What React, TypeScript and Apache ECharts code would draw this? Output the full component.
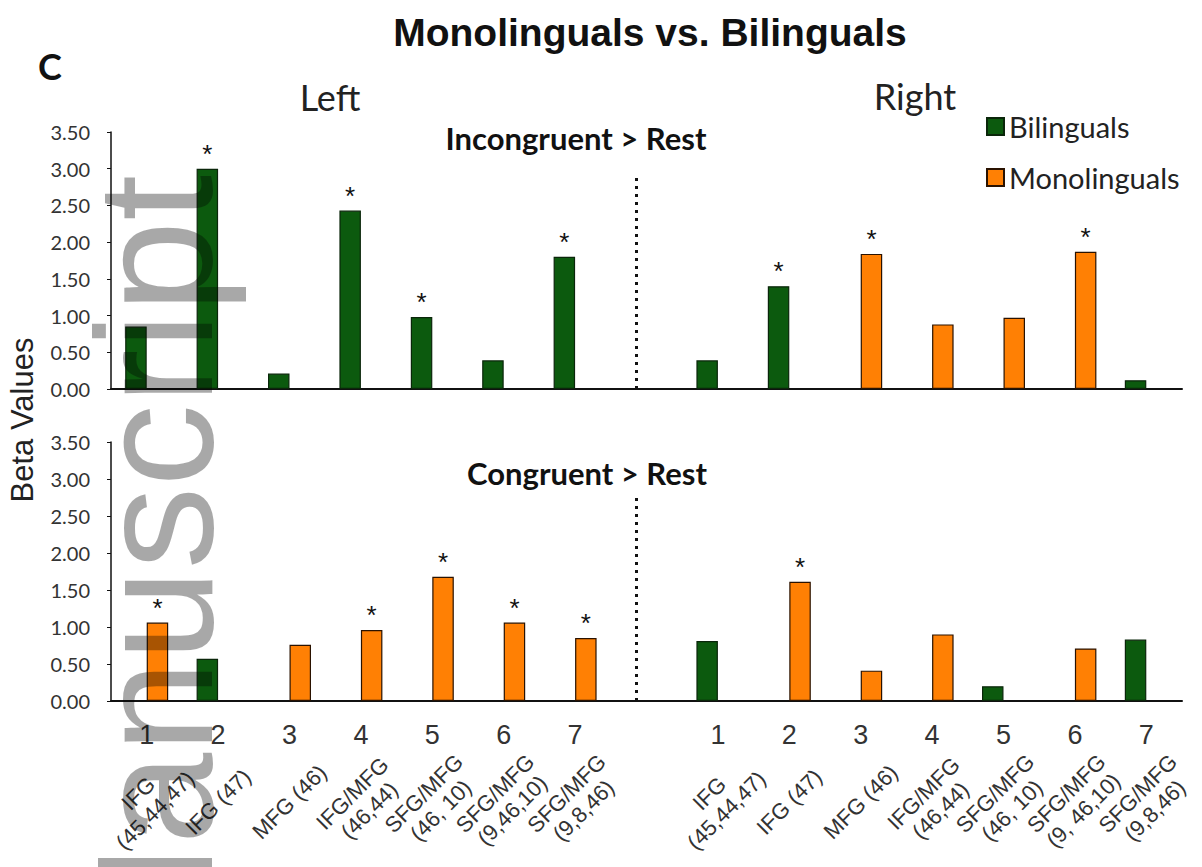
import React, { useEffect, useRef } from "react";
import * as echarts from "echarts";

// ---- data ----
const categories = ["L1", "L2", "L3", "L4", "L5", "L6", "L7", "gap", "R1", "R2", "R3", "R4", "R5", "R6", "R7"];
const tickNumbers = ["1", "2", "3", "4", "5", "6", "7", "", "1", "2", "3", "4", "5", "6", "7"];
const leftRegions = ["IFG\n(45,44,47)", "IFG (47)", "MFG (46)", "IFG/MFG\n(46,44)", "SFG/MFG\n(46, 10)", "SFG/MFG\n(9,46,10)", "SFG/MFG\n(9,8,46)"];
const rightRegions = ["IFG\n(45,44,47)", "IFG (47)", "MFG (46)", "IFG/MFG\n(46,44)", "SFG/MFG\n(46, 10)", "SFG/MFG\n(9, 46,10)", "SFG/MFG\n(9,8,46)"];

const incBilingualLeft = [0.85, 3.0, 0.21, 2.43, 0.98, 0.39, 1.8];
const incBilingualRight = [0.39, 1.4, null, null, null, null, 0.12];
const incMonolingualLeft = [null, null, null, null, null, null, null];
const incMonolingualRight = [null, null, 1.84, 0.88, 0.97, 1.87, null];
const incSignificantLeft = [0, 1, 0, 1, 1, 0, 1];
const incSignificantRight = [0, 1, 1, 0, 0, 1, 0];

const conBilingualLeft = [null, 0.57, null, null, null, null, null];
const conBilingualRight = [0.81, null, null, null, 0.2, null, 0.83];
const conMonolingualLeft = [1.06, null, 0.76, 0.96, 1.68, 1.06, 0.85];
const conMonolingualRight = [null, 1.61, 0.41, 0.9, null, 0.71, null];
const conSignificantLeft = [1, 0, 0, 1, 1, 1, 1];
const conSignificantRight = [0, 1, 0, 0, 0, 0, 0];

const dividerTopInc = 2.94;
const dividerTopCon = 2.76;

// ---- helpers ----
const join = (l: any[], r: any[]) => [...l, null, ...r];
const regionLabels = [...leftRegions, "", ...rightRegions];
const incSig = join(incSignificantLeft, incSignificantRight);
const conSig = join(conSignificantLeft, conSignificantRight);

const GREEN = "#0c5a0e";
const ORANGE = "#ff8004";
const calibriLike = "Lato, 'Open Sans', sans-serif";
const arialLike = "'Liberation Sans', Arial, sans-serif";

function yAxis(gridIndex: number) {
  return {
    type: "value",
    gridIndex,
    min: 0,
    max: 3.5,
    interval: 0.5,
    axisLine: { show: true, lineStyle: { color: "#111", width: 1.5 } },
    axisTick: { show: true, length: 4, lineStyle: { color: "#111" } },
    splitLine: { show: false },
    axisLabel: {
      formatter: (v: number) => v.toFixed(2),
      margin: 21,
      fontSize: 20,
      fontFamily: calibriLike,
      color: "#333",
    },
  };
}

function barSeries(name: string, color: string, border: string, data: any[], sig: number[], idx: number, divider: number | null) {
  const s: any = {
    name,
    type: "bar",
    xAxisIndex: idx,
    yAxisIndex: idx,
    data,
    barWidth: 21.5,
    barGap: "0%",
    itemStyle: { color, borderColor: border, borderWidth: 1.2 },
    label: {
      show: true,
      position: "top",
      distance: 2,
      formatter: (p: any) => (sig[p.dataIndex] ? "*" : ""),
      fontSize: 26,
      color: "#111",
      fontFamily: arialLike,
    },
  };
  if (divider !== null) {
    s.markLine = {
      silent: true,
      symbol: "none",
      label: { show: false },
      lineStyle: { type: [3, 5], width: 3, color: "#111" },
      data: [[{ coord: [7, 0] }, { coord: [7, divider] }]],
    };
  }
  return s;
}

export default function App() {
  const ref = useRef<HTMLDivElement>(null);
  useEffect(() => {
    if (!ref.current) return;
    const chart = echarts.init(ref.current, null, { renderer: "svg" });
    const option: any = {
      animation: false,
      backgroundColor: "#fff",
      title: {
        text: "Monolinguals vs. Bilinguals",
        left: 645,
        top: 8,
        textAlign: "center",
        textStyle: { fontSize: 39, fontWeight: "bold", fontFamily: arialLike, color: "#111" },
      },
      legend: {
        data: ["Bilinguals", "Monolinguals"],
        orient: "vertical",
        left: 986,
        top: 112,
        itemWidth: 17,
        itemHeight: 17,
        itemGap: 22,
        icon: "rect",
        padding: 0,
        textStyle: { fontSize: 29, fontFamily: calibriLike, color: "#222" },
      },
      grid: [
        { left: 111, top: 132, width: 1071, height: 257 },
        { left: 111, top: 442, width: 1071, height: 259 },
      ],
      xAxis: [
        {
          type: "category",
          gridIndex: 0,
          data: categories,
          axisLine: { show: true, lineStyle: { color: "#111", width: 2 } },
          axisTick: { show: false },
          axisLabel: { show: false },
        },
        {
          type: "category",
          gridIndex: 1,
          data: categories,
          position: "bottom",
          axisLine: { show: true, lineStyle: { color: "#111", width: 2 } },
          axisTick: { show: false },
          axisLabel: {
            interval: 0,
            formatter: (_v: string, i: number) => tickNumbers[i],
            margin: 20,
            fontSize: 27,
            fontFamily: arialLike,
            color: "#333",
          },
        },
        {
          type: "category",
          gridIndex: 1,
          data: categories,
          position: "bottom",
          axisLine: { show: false },
          axisTick: { show: false },
          axisLabel: {
            interval: 0,
            rotate: 45,
            align: "center",
            verticalAlign: "middle",
            formatter: (_v: string, i: number) => regionLabels[i],
            margin: 101,
            fontSize: 22,
            lineHeight: 24,
            fontFamily: arialLike,
            color: "#333",
          },
        },
      ],
      yAxis: [yAxis(0), yAxis(1)],
      series: [
        barSeries("Bilinguals", GREEN, "#0a260a", join(incBilingualLeft, incBilingualRight), incSig, 0, dividerTopInc),
        barSeries("Monolinguals", ORANGE, "#2a1200", join(incMonolingualLeft, incMonolingualRight), incSig, 0, null),
        barSeries("Bilinguals", GREEN, "#0a260a", join(conBilingualLeft, conBilingualRight), conSig, 1, dividerTopCon),
        barSeries("Monolinguals", ORANGE, "#2a1200", join(conMonolingualLeft, conMonolingualRight), conSig, 1, null),
      ],
      graphic: [
        { type: "text", x: 38, y: 66, style: { text: "C", fontSize: 36, fontWeight: "bold", fontFamily: calibriLike, fill: "#111", textVerticalAlign: "middle" } },
        { type: "text", x: 330, y: 97, style: { text: "Left", fontSize: 36, fontFamily: calibriLike, fill: "#222", textAlign: "center", textVerticalAlign: "middle" } },
        { type: "text", x: 915, y: 96, style: { text: "Right", fontSize: 36, fontFamily: calibriLike, fill: "#222", textAlign: "center", textVerticalAlign: "middle" } },
        { type: "text", x: 576, y: 138, style: { text: "Incongruent > Rest", fontSize: 31, fontWeight: "bold", fontFamily: calibriLike, fill: "#111", textAlign: "center", textVerticalAlign: "middle" } },
        { type: "text", x: 587, y: 473, style: { text: "Congruent > Rest", fontSize: 31, fontWeight: "bold", fontFamily: calibriLike, fill: "#111", textAlign: "center", textVerticalAlign: "middle" } },
        { type: "text", x: 22, y: 420, rotation: Math.PI / 2, style: { text: "Beta Values", fontSize: 31, fontFamily: arialLike, fill: "#222", textAlign: "center", textVerticalAlign: "middle" } },
        { type: "text", x: 155, y: 175, rotation: Math.PI / 2, z: 100, silent: true, style: { text: "Manuscript", fontSize: 165, fontFamily: arialLike, fill: "rgba(0,0,0,0.34)", textAlign: "right", textVerticalAlign: "middle" } },
      ],
    };
    chart.setOption(option);
    return () => chart.dispose();
  }, []);
  return <div ref={ref} style={{ position: "absolute", left: 0, top: 0, width: 1202, height: 867, background: "#fff" }} />;
}
